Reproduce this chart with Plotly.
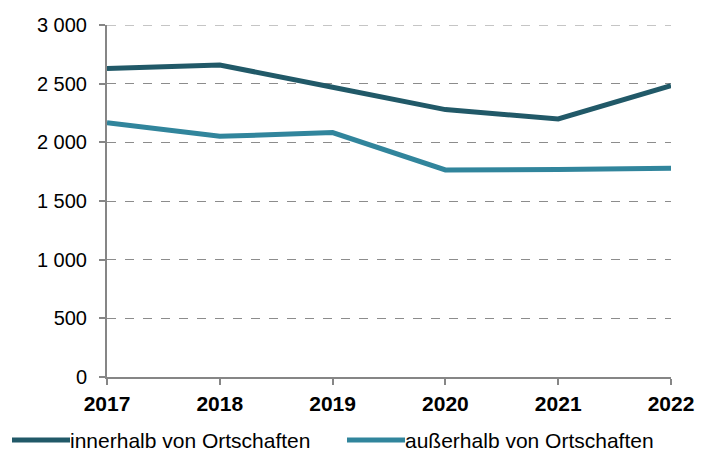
import plotly.graph_objects as go

years = [2017, 2018, 2019, 2020, 2021, 2022]
innerhalb = [2630, 2659, 2469, 2279, 2199, 2483]
ausserhalb = [2168, 2051, 2083, 1765, 1768, 1779]
series_names = ["innerhalb von Ortschaften", "außerhalb von Ortschaften"]
colors = ["#215968", "#31859C"]
y_ticks = [0, 500, 1000, 1500, 2000, 2500, 3000]

# page body has an 8px margin: figure is offset by 8px on screen
OFF = 8
FIG_W, FIG_H = 712 - OFF, 450 - OFF
L, R, T, B = 107, 671, 25, 377  # target screen pixels of plot area

fig = go.Figure()
for vals, name, col in zip([innerhalb, ausserhalb], series_names, colors):
    fig.add_trace(go.Scatter(x=years, y=vals, mode="lines", name=name,
                             line=dict(color=col, width=5),
                             cliponaxis=False, showlegend=False))

FS = 20
font = dict(family="Liberation Sans, Arial, sans-serif", size=FS, color="#000000")
GRID = "#8c8c8c"

fig.update_layout(
    width=FIG_W, height=FIG_H,
    margin=dict(l=L - OFF, r=FIG_W - (R - OFF), t=T - OFF, b=FIG_H - (B - OFF),
                autoexpand=False),
    paper_bgcolor="white", plot_bgcolor="white",
    separators=", ",
    font=font,
    showlegend=False,
    xaxis=dict(range=[2017, 2022], tickvals=years, automargin=False,
               ticktext=[f"<b>{y}</b>" for y in years],
               showgrid=False, showline=True, linecolor="#868686", linewidth=2,
               ticks="outside", ticklen=6, tickcolor="#868686", tickwidth=1.5,
               tickfont=dict(size=21), zeroline=False, ticklabelstandoff=1),
    yaxis=dict(range=[0, 3000], tickvals=y_ticks, automargin=False,
               tickformat=",d",
               showgrid=True, gridcolor=GRID, griddash="dash", gridwidth=1,
               showline=True, linecolor="#868686", linewidth=2,
               ticks="outside", ticklen=6, tickcolor="#868686", tickwidth=1.5,
               zeroline=False, tickfont=dict(size=FS), ticklabelstandoff=8),
)

# top gridline (plotly drops the one at the plot edge)
fig.add_shape(type="line", xref="paper", yref="y", x0=0, x1=1,
              y0=y_ticks[-1], y1=y_ticks[-1], layer="above",
              line=dict(color=GRID, width=1, dash="dash"))

# manual legend (screen pixel positions converted to paper coords)
W = float(R - L)
H = float(B - T)
def px_x(p):
    return (p - L) / W
def px_y(p):
    return (B - p) / H

legend_items = [(12, 70), (347, 405)]
for (x0, x1), name, col in zip(legend_items, series_names, colors):
    fig.add_shape(type="line", xref="paper", yref="paper",
                  x0=px_x(x0), x1=px_x(x1), y0=px_y(440), y1=px_y(440),
                  line=dict(color=col, width=5))
    fig.add_annotation(xref="paper", yref="paper", x=px_x(x1), y=px_y(440),
                       text=name, showarrow=False, xanchor="left", yanchor="middle",
                       xshift=-2, font=dict(size=21, color="#000000"))

fig.write_html("out.html")
